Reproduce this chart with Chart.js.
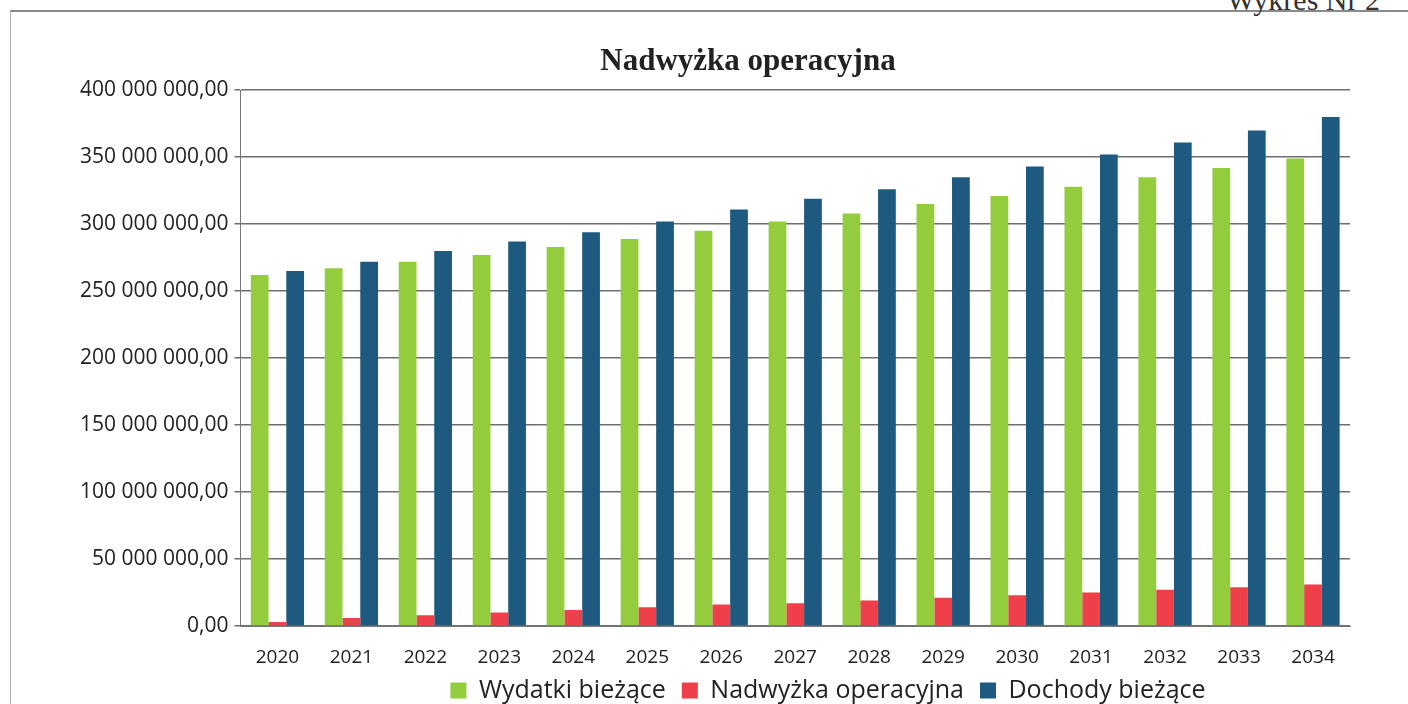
<!DOCTYPE html>
<html>
<head>
<meta charset="utf-8">
<script src="https://cdn.jsdelivr.net/npm/chart.js@4"></script>
<style>
  body { margin: 0; background: #fff; }
  #wrap { position: relative; width: 1408px; height: 704px; overflow: hidden; }
  #frame { position: absolute; left: 10px; top: 10px; width: 1420px; height: 720px;
           border-top: 2px solid #8a8a8a; border-left: 1px solid #b0b0b0; }
  #nr { position: absolute; right: 28px; top: -17px; font: 30px "Liberation Serif", serif; color: #333; }
  canvas { position: absolute; left: 0; top: 0; }
</style>
</head>
<body>
<div id="wrap">
  <div id="frame"></div>
  <div id="nr">Wykres Nr 2</div>
  <canvas id="chart" width="1408" height="704"></canvas>
</div>
<script>
// lata
const years = ['2020', '2021', '2022', '2023', '2024', '2025', '2026', '2027',
               '2028', '2029', '2030', '2031', '2032', '2033', '2034'];

// wartości w zł
const wydatki = [262e6, 267e6, 272e6, 277e6, 283e6, 289e6, 295e6, 302e6,
                 308e6, 315e6, 321e6, 328e6, 335e6, 342e6, 349e6];
const nadwyzka = [3e6, 6e6, 8e6, 10e6, 12e6, 14e6, 16e6, 17e6,
                  19e6, 21e6, 23e6, 25e6, 27e6, 29e6, 31e6];
const dochody = [265e6, 272e6, 280e6, 287e6, 294e6, 302e6, 311e6, 319e6,
                 326e6, 335e6, 343e6, 352e6, 361e6, 370e6, 380e6];

const yMax = 400e6;
const yStep = 50e6;

function fmt(v) {
  const s = Math.round(v).toString().replace(/\B(?=(\d{3})+(?!\d))/g, ' ');
  return s + ',00';
}

// title and legend sit right of the canvas centre in the original
const shiftBoxes = {
  id: 'shiftBoxes',
  afterLayout(chart) {
    const t = chart.titleBlock;
    if (t) { t.left += 36; t.right += 36; }
    const l = chart.legend;
    if (l) { l.left += 116; l.right += 116; l.top -= 7; l.bottom -= 7; }
  },
};

new Chart(document.getElementById('chart'), {
  type: 'bar',
  data: {
    labels: years,
    datasets: [
      { label: 'Wydatki bieżące', data: wydatki, backgroundColor: '#93cc3d' },
      { label: 'Nadwyżka operacyjna', data: nadwyzka, backgroundColor: '#ef3f4b' },
      { label: 'Dochody bieżące', data: dochody, backgroundColor: '#1e5a80' },
    ],
  },
  plugins: [shiftBoxes],
  options: {
    responsive: false,
    animation: false,
    layout: { padding: { left: 74, right: 58, top: 30, bottom: -16 } },
    datasets: { bar: { categoryPercentage: 0.72, barPercentage: 1.0 } },
    plugins: {
      title: {
        display: true,
        text: 'Nadwyżka operacyjna',
        color: '#222',
        font: { family: 'Liberation Serif', size: 31, weight: 'bold' },
        padding: { top: 13, bottom: 10 },
      },
      legend: {
        position: 'bottom',
        labels: {
          color: '#222',
          boxWidth: 16,
          boxHeight: 16,
          padding: 16,
          font: { family: 'Open Sans', size: 25 },
        },
      },
      tooltip: { enabled: false },
    },
    scales: {
      x: {
        grid: { display: false, drawTicks: true, tickLength: 6 },
        border: { color: '#777' },
        ticks: { color: '#222', font: { family: 'Open Sans', size: 19 }, padding: 14 },
        afterFit: s => { s.height = 43; },
      },
      y: {
        min: 0,
        max: yMax,
        grid: { color: '#6e6e6e', lineWidth: 1.5, tickLength: 6 },
        border: { color: '#777' },
        ticks: { stepSize: yStep, color: '#222', font: { family: 'Open Sans', size: 21 },
                 padding: 6, callback: v => fmt(v) },
      },
    },
  },
});
</script>
</body>
</html>
